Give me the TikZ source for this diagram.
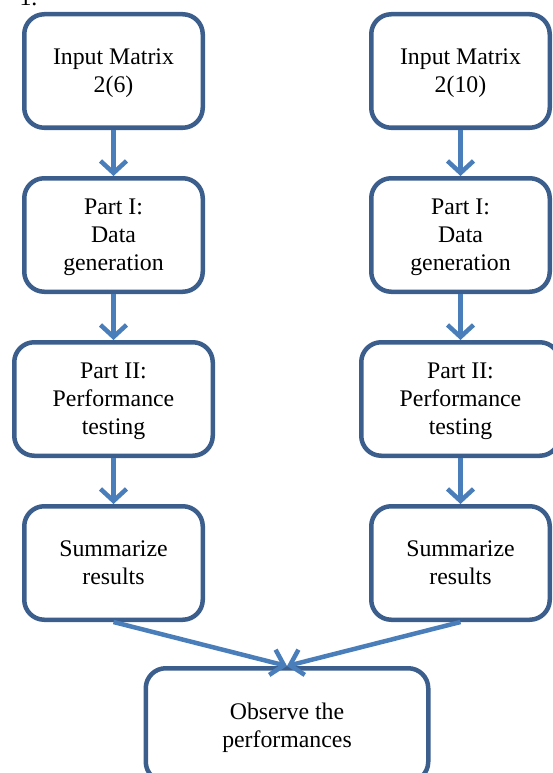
\documentclass[tikz,border=0pt]{standalone}
\usepackage{fontspec}
\setmainfont{Liberation Serif}
\usetikzlibrary{arrows.meta,positioning,calc}
\definecolor{boxblue}{RGB}{59,94,140}
\definecolor{arrowblue}{RGB}{74,126,187}

\begin{document}
\begin{tikzpicture}[->,>={Straight Barb[length=12pt,width=26pt]},node distance=46pt,
                    line width=4.5pt]
  \tikzstyle{every node}=[font=\fontsize{23.8}{28}\selectfont,text=black]
  \tikzstyle{stepbox}=[draw=boxblue,fill=white,rounded corners=20pt,align=center,
                       text depth=-1pt,minimum width=178.5pt,minimum height=113.5pt]
  \tikzstyle{every edge}=[draw=arrowblue]

  \useasboundingbox (0pt,0pt) rectangle (553pt,-773pt);

  \node[anchor=base west] (num) at (14pt,-6pt) {1.};

  \node[stepbox]  (in1)  at (113.5pt,-71pt)    {Input Matrix\\2(6)};
  \node[stepbox]  (gen1) [below=of in1]        {Part I:\\Data\\generation};
  \node[stepbox,minimum width=198.5pt] (test1) [below=of gen1] {Part II:\\Performance\\testing};
  \node[stepbox]  (sum1) [below=of test1]      {Summarize\\results};

  \node[stepbox]  (in2)  [right=164pt of in1]  {Input Matrix\\2(10)};
  \node[stepbox]  (gen2) [below=of in2]        {Part I:\\Data\\generation};
  \node[stepbox,minimum width=198.5pt] (test2) [below=of gen2] {Part II:\\Performance\\testing};
  \node[stepbox]  (sum2) [below=of test2]      {Summarize\\results};

  \coordinate (mid) at ($(sum1.south)!0.5!(sum2.south)$);
  \node[stepbox,minimum width=282.5pt] (obs) [below=44pt of mid] {Observe the\\performances};

  \path (in1) edge (gen1)
        (gen1) edge (test1)
        (test1) edge (sum1)
        (in2) edge (gen2)
        (gen2) edge (test2)
        (test2) edge (sum2)
        (sum1.south) edge (obs.north)
        (sum2.south) edge (obs.north);
\end{tikzpicture}
\end{document}
